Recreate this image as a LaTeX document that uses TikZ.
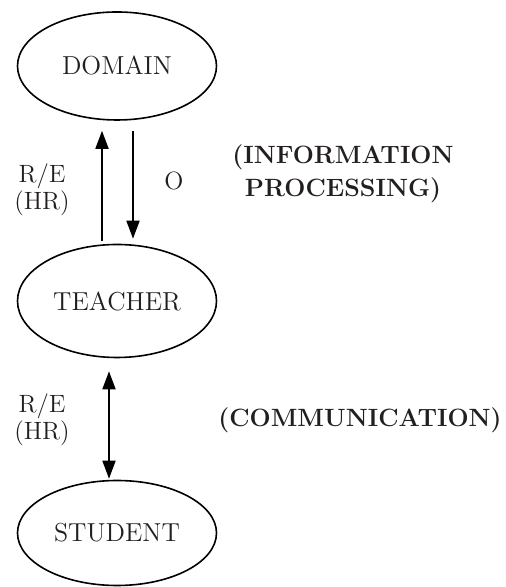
\documentclass[tikz,border=0pt]{standalone}
\usetikzlibrary{shapes.geometric,arrows.meta}
\definecolor{ink}{HTML}{231F20}

\begin{document}
\begin{tikzpicture}[x=0.5pt,y=0.5pt,
  agent/.style={draw=black,ellipse,line width=0.8pt,inner sep=0pt,
    minimum width=99.5pt,text=ink,font=\fontsize{13}{15}\selectfont},
  link/.style={line width=0.9pt,-{Triangle[length=9pt,width=6.5pt]}},
  twoway/.style={link,{Triangle[length=9pt,width=6.5pt]}-{Triangle[length=9pt,width=6.5pt]}},
  tag/.style={text=ink,align=center,inner sep=0pt,font=\fontsize{12.5}{10.5}\selectfont},
  role/.style={text=ink,align=center,inner sep=0pt,font=\bfseries\fontsize{12.5}{16.5}\selectfont}]
  \useasboundingbox (0,0) rectangle (505,587);
  \node[agent,minimum height=54pt] (domain) at (117,521) {DOMAIN};
  \node[agent,minimum height=56.5pt] (teacher) at (117,286) {TEACHER};
  \node[agent,minimum height=52.5pt] (student) at (117,54) {STUDENT};
  \draw[link,shorten <=1.5pt,shorten >=5pt] ([xshift=-7.5pt]teacher.north) -- ([xshift=-7.5pt]domain.south);
  \draw[link,shorten <=5pt,shorten >=2.5pt] ([xshift=8pt]domain.south) -- ([xshift=8pt]teacher.north);
  \draw[twoway,shorten <=6.5pt,shorten >=0.5pt] ([xshift=-4pt]teacher.south) -- ([xshift=-4pt]student.north);
  \node[tag] (re1) at (42,397) {R/E\\(HR)};
  \node[tag] (obs) at (174,406) {O};
  \node[tag] (re2) at (42,167) {R/E\\(HR)};
  \node[role] (info) at (343,413) {(INFORMATION\\PROCESSING)};
  \node[role] (comm) at (360,167) {(COMMUNICATION)};
\end{tikzpicture}
\end{document}
